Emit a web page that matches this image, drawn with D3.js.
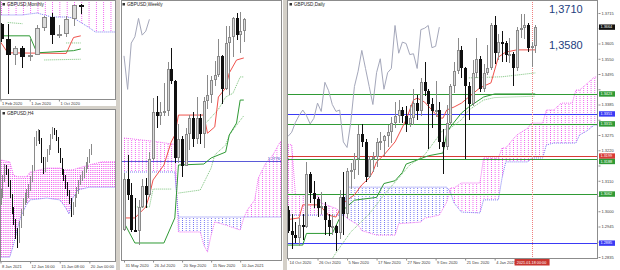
<!DOCTYPE html>
<html lang="en">
<head>
<meta charset="UTF-8">
<script src="https://cdnjs.cloudflare.com/ajax/libs/d3/7.8.5/d3.min.js"></script>
<title>GBPUSD Monthly / H4 / Weekly / Daily</title>
<style>
    html, body { margin: 0; padding: 0; background: #d4d0c8; }
    svg { display: block; font-family: "Liberation Sans", "DejaVu Sans", sans-serif; }
    .tick-label { fill: #3a3a3a; font-size: 4px; }
    .title { fill: #1e1e1e; font-size: 4.6px; }
    .box-label { fill: #fff; font-size: 3.8px; }
    .note { fill: #23407e; font-size: 11px; }
</style>
</head>
<body>
<script>
    // ---------- data (prices) ----------

    // monthly candles Feb 2020 .. Jan 2021, [open, high, low, close]
    const monthlyOHLC = [
        [1.3195, 1.3210, 1.2725, 1.2820],
        [1.2820, 1.3200, 1.1409, 1.2405],
        [1.2405, 1.2645, 1.2165, 1.2585],
        [1.2585, 1.2645, 1.2075, 1.2345],
        [1.2345, 1.2813, 1.2252, 1.2405],
        [1.2405, 1.3170, 1.2395, 1.3085],
        [1.3085, 1.3395, 1.3005, 1.3370],
        [1.3370, 1.3482, 1.2676, 1.2915],
        [1.2915, 1.3177, 1.2845, 1.2945],
        [1.2945, 1.3400, 1.2855, 1.3315],
        [1.3315, 1.3680, 1.3135, 1.3670],
        [1.3670, 1.3710, 1.3450, 1.3664]
    ];
    const monthlyDates = [[0, '1 Feb 2020'], [4, '1 Jun 2020'], [8, '1 Oct 2020']];
    const monthlyTenkan = [[0, 1.2737], [1, 1.2462], [9, 1.2446], [10, 1.2850], [11, 1.2893]];
    const monthlyKijun = [[0, 1.2893], [4, 1.2893], [5, 1.2462], [10, 1.2517], [11, 1.2560]];
    const monthlyDotted = [
        [[1, 1.3230], [3, 1.3200]],
        [[9, 1.2712], [11, 1.2712]],
        [[6, 1.2281], [11, 1.2300]]
    ];
    // kumo rows: [bar, span A, span B]
    const monthlyKumo = [
        [0, 1.45, 1.3421], [3, 1.45, 1.3421], [5, 1.45, 1.3471], [7, 1.45, 1.3370],
        [9, 1.45, 1.3370], [10, 1.45, 1.3345], [12, 1.45, 1.3117], [13, 1.45, 1.2990], [16, 1.45, 1.2990]
    ];

    // H4 candles 8 Jan .. 19 Jan 2021
    const h4OHLC = [
        [1.3555, 1.3580, 1.3545, 1.3567], [1.3567, 1.3610, 1.3560, 1.3600], [1.3600, 1.3636, 1.3595, 1.3626],
        [1.3626, 1.3632, 1.3610, 1.3622], [1.3622, 1.3625, 1.3585, 1.3595], [1.3595, 1.3600, 1.3560, 1.3567],
        [1.3567, 1.3570, 1.3525, 1.3534], [1.3534, 1.3540, 1.3500, 1.3507], [1.3507, 1.3515, 1.3470, 1.3490],
        [1.3490, 1.3495, 1.3450, 1.3468], [1.3468, 1.3510, 1.3460, 1.3501], [1.3501, 1.3535, 1.3495, 1.3529],
        [1.3529, 1.3560, 1.3520, 1.3556], [1.3556, 1.3572, 1.3545, 1.3565], [1.3565, 1.3580, 1.3550, 1.3573],
        [1.3573, 1.3590, 1.3560, 1.3582], [1.3582, 1.3608, 1.3575, 1.3600], [1.3600, 1.3632, 1.3595, 1.3626],
        [1.3626, 1.3695, 1.3620, 1.3688], [1.3688, 1.3708, 1.3675, 1.3699], [1.3699, 1.3712, 1.3685, 1.3706],
        [1.3706, 1.3710, 1.3680, 1.3688], [1.3688, 1.3692, 1.3638, 1.3644], [1.3644, 1.3650, 1.3612, 1.3622],
        [1.3622, 1.3650, 1.3618, 1.3644], [1.3644, 1.3668, 1.3640, 1.3662], [1.3662, 1.3678, 1.3655, 1.3670],
        [1.3670, 1.3702, 1.3665, 1.3699], [1.3699, 1.3716, 1.3690, 1.3710], [1.3710, 1.3714, 1.3698, 1.3706],
        [1.3706, 1.3710, 1.3685, 1.3692], [1.3692, 1.3695, 1.3660, 1.3666], [1.3666, 1.3670, 1.3638, 1.3644],
        [1.3644, 1.3648, 1.3610, 1.3617], [1.3617, 1.3625, 1.3598, 1.3604], [1.3604, 1.3610, 1.3580, 1.3587],
        [1.3587, 1.3595, 1.3565, 1.3573], [1.3573, 1.3578, 1.3548, 1.3556], [1.3556, 1.3560, 1.3518, 1.3529],
        [1.3529, 1.3552, 1.3522, 1.3545], [1.3545, 1.3570, 1.3540, 1.3565], [1.3565, 1.3585, 1.3560, 1.3578],
        [1.3578, 1.3600, 1.3570, 1.3595], [1.3595, 1.3610, 1.3588, 1.3604], [1.3604, 1.3620, 1.3598, 1.3613],
        [1.3613, 1.3628, 1.3605, 1.3622], [1.3622, 1.3640, 1.3615, 1.3633], [1.3633, 1.3650, 1.3625, 1.3644],
        [1.3644, 1.3668, 1.3638, 1.3662], [1.3662, 1.3680, 1.3655, 1.3673]
    ];
    const h4Dates = [[0, '8 Jan 2021'], [16, '12 Jan 16:00'], [32, '15 Jan 08:00'], [48, '20 Jan 00:00']];
    const h4Kumo = [
        [0, 1.3644, 1.3430], [5, 1.3640, 1.3430], [7, 1.3611, 1.3457], [9, 1.3607, 1.3490],
        [11, 1.3607, 1.3520], [14, 1.3607, 1.3545], [16, 1.3617, 1.3556], [25, 1.3626, 1.3560],
        [32, 1.3626, 1.3556], [35, 1.3622, 1.3540], [37, 1.3622, 1.3525], [39, 1.3622, 1.3560],
        [42, 1.3626, 1.3578], [48, 1.3633, 1.3584], [55, 1.3640, 1.3584], [64, 1.3640, 1.3584]
    ];

    // weekly candles, week of 31 May 2020 .. week of 17 Jan 2021
    const weeklyOHLC = [
        [1.2345, 1.2700, 1.2335, 1.2665], [1.2665, 1.2813, 1.2530, 1.2565], [1.2565, 1.2640, 1.2330, 1.2345],
        [1.2345, 1.2545, 1.2335, 1.2335], [1.2335, 1.2530, 1.2252, 1.2485], [1.2485, 1.2665, 1.2480, 1.2620],
        [1.2620, 1.2670, 1.2480, 1.2565], [1.2565, 1.2835, 1.2550, 1.2790], [1.2790, 1.3170, 1.2780, 1.3085],
        [1.3085, 1.3185, 1.2980, 1.3055], [1.3055, 1.3145, 1.3000, 1.3085], [1.3085, 1.3265, 1.3055, 1.3090],
        [1.3090, 1.3395, 1.3060, 1.3350], [1.3350, 1.3482, 1.3260, 1.3280], [1.3280, 1.3285, 1.2762, 1.2795],
        [1.2795, 1.3005, 1.2765, 1.2915], [1.2915, 1.2935, 1.2676, 1.2745], [1.2745, 1.2980, 1.2745, 1.2945],
        [1.2945, 1.3065, 1.2845, 1.3045], [1.3045, 1.3085, 1.2865, 1.2915], [1.2915, 1.3177, 1.2880, 1.3045],
        [1.3045, 1.3070, 1.2880, 1.2945], [1.2945, 1.3175, 1.2855, 1.3150], [1.3150, 1.3313, 1.3105, 1.3190],
        [1.3190, 1.3310, 1.3140, 1.3285], [1.3285, 1.3400, 1.3245, 1.3315], [1.3315, 1.3540, 1.3305, 1.3435],
        [1.3435, 1.3440, 1.3135, 1.3225], [1.3225, 1.3625, 1.3220, 1.3515], [1.3515, 1.3625, 1.3190, 1.3555],
        [1.3555, 1.3680, 1.3430, 1.3670], [1.3670, 1.3705, 1.3535, 1.3565], [1.3565, 1.3710, 1.3450, 1.3590],
        [1.3590, 1.3670, 1.3520, 1.3664]
    ];
    const weeklyDates = [[0, '31 May 2020'], [8, '26 Jul 2020'], [16, '20 Sep 2020'], [24, '15 Nov 2020'], [32, '10 Jan 2021']];
    const weeklyTenkan = [
        [0, 1.2419], [3, 1.2419], [6, 1.2488], [7, 1.2560], [8, 1.2657], [11, 1.2751], [13, 1.2895],
        [14, 1.2939], [15, 1.3064], [22, 1.3064], [23, 1.2950], [25, 1.2990], [26, 1.3177], [28, 1.3234],
        [29, 1.3328], [31, 1.3409], [33, 1.3422]
    ];
    const weeklyKijun = [
        [0, 1.2390], [3, 1.2262], [11, 1.2262], [14, 1.2419], [15, 1.2751], [22, 1.2757], [24, 1.2795],
        [28, 1.2832], [29, 1.2939], [31, 1.3014], [32, 1.3158], [33, 1.3158]
    ];
    const weeklyDotted = [
        [[15, 1.2575], [21, 1.2594], [24, 1.2732], [25, 1.2814], [28, 1.2876], [29, 1.2939], [31, 1.3000], [33, 1.3060]],
        [[22, 1.3000], [26, 1.3100], [28, 1.3177], [30, 1.3200], [32, 1.3303], [33, 1.3303]],
        [[3, 1.2488], [7, 1.2488], [8, 1.2600], [13, 1.2600]]
    ];
    const weeklyKumo = [
        [0, 1.2920, 1.2707], [8, 1.2900, 1.2707], [14, 1.2880, 1.2707], [15, 1.2331, 1.2425],
        [21, 1.2331, 1.2425], [22, 1.2249, 1.2425], [23, 1.2205, 1.2425], [24, 1.2312, 1.2425],
        [25, 1.2394, 1.2425], [28, 1.2375, 1.2425], [32, 1.2343, 1.2425], [33, 1.2419, 1.2425],
        [34, 1.2470, 1.2425], [36, 1.2531, 1.2425], [37, 1.2669, 1.2425], [39, 1.2760, 1.2425],
        [41, 1.2814, 1.2425], [43, 1.2895, 1.2425], [45, 1.2930, 1.2425]
    ];
    const weeklyLevel = 1.2776;

    // daily candles 14 Oct 2020 .. 19 Jan 2021
    const dailyOHLC = [
        [1.3005, 1.3020, 1.2920, 1.2930], [1.2930, 1.2990, 1.2865, 1.2915], [1.2915, 1.2960, 1.2885, 1.2905],
        [1.2905, 1.2975, 1.2875, 1.2950], [1.2950, 1.2990, 1.2895, 1.2945], [1.2945, 1.3177, 1.2940, 1.3135],
        [1.3135, 1.3140, 1.3030, 1.3065], [1.3065, 1.3110, 1.3010, 1.3045], [1.3045, 1.3050, 1.2980, 1.3010],
        [1.3010, 1.3070, 1.2990, 1.3020], [1.3020, 1.3035, 1.2915, 1.2970], [1.2970, 1.2990, 1.2910, 1.2945],
        [1.2945, 1.2990, 1.2915, 1.2948], [1.2948, 1.2950, 1.2855, 1.2920], [1.2920, 1.3075, 1.2900, 1.3050],
        [1.3050, 1.3140, 1.2915, 1.2990], [1.2990, 1.3155, 1.2975, 1.3145], [1.3145, 1.3175, 1.3080, 1.3150],
        [1.3150, 1.3210, 1.3115, 1.3190], [1.3190, 1.3310, 1.3130, 1.3280], [1.3280, 1.3315, 1.3230, 1.3250],
        [1.3250, 1.3260, 1.3105, 1.3125], [1.3125, 1.3200, 1.3120, 1.3190], [1.3190, 1.3215, 1.3140, 1.3195],
        [1.3195, 1.3265, 1.3160, 1.3250], [1.3250, 1.3285, 1.3220, 1.3255], [1.3255, 1.3275, 1.3200, 1.3270],
        [1.3270, 1.3310, 1.3230, 1.3285], [1.3285, 1.3340, 1.3245, 1.3320], [1.3320, 1.3395, 1.3300, 1.3345],
        [1.3345, 1.3400, 1.3320, 1.3365], [1.3365, 1.3375, 1.3320, 1.3345], [1.3345, 1.3380, 1.3285, 1.3315],
        [1.3315, 1.3385, 1.3305, 1.3335], [1.3335, 1.3440, 1.3310, 1.3390], [1.3390, 1.3420, 1.3330, 1.3360],
        [1.3360, 1.3480, 1.3345, 1.3465], [1.3465, 1.3540, 1.3415, 1.3435], [1.3435, 1.3440, 1.3225, 1.3385],
        [1.3385, 1.3410, 1.3300, 1.3360], [1.3360, 1.3470, 1.3340, 1.3365], [1.3365, 1.3395, 1.3225, 1.3250],
        [1.3250, 1.3295, 1.3135, 1.3230], [1.3230, 1.3385, 1.3220, 1.3320], [1.3320, 1.3460, 1.3310, 1.3450],
        [1.3450, 1.3540, 1.3425, 1.3505], [1.3505, 1.3625, 1.3495, 1.3580], [1.3580, 1.3595, 1.3480, 1.3515],
        [1.3515, 1.3520, 1.3190, 1.3450], [1.3450, 1.3465, 1.3330, 1.3385], [1.3385, 1.3545, 1.3380, 1.3500],
        [1.3500, 1.3625, 1.3480, 1.3550], [1.3550, 1.3560, 1.3430, 1.3440], [1.3440, 1.3530, 1.3430, 1.3500],
        [1.3500, 1.3600, 1.3490, 1.3515], [1.3515, 1.3680, 1.3510, 1.3670], [1.3670, 1.3705, 1.3530, 1.3570],
        [1.3570, 1.3640, 1.3545, 1.3610], [1.3610, 1.3650, 1.3540, 1.3605], [1.3605, 1.3615, 1.3540, 1.3565],
        [1.3565, 1.3625, 1.3535, 1.3568], [1.3568, 1.3575, 1.3450, 1.3515], [1.3515, 1.3665, 1.3505, 1.3655],
        [1.3655, 1.3710, 1.3625, 1.3660], [1.3660, 1.3710, 1.3620, 1.3670], [1.3670, 1.3680, 1.3575, 1.3590],
        [1.3590, 1.3610, 1.3520, 1.3595], [1.3595, 1.3670, 1.3570, 1.3664]
    ];
    const dailyDates = [
        [0, '14 Oct 2020'], [8, '26 Oct 2020'], [16, '5 Nov 2020'], [24, '17 Nov 2020'],
        [32, '27 Nov 2020'], [40, '9 Dec 2020'], [48, '21 Dec 2020'], [56, '4 Jan 2021']
    ];
    const dailyPriceTicks = [
        1.3715, 1.3660, 1.3605, 1.3550, 1.3495, 1.3440, 1.3385, 1.3330, 1.3275,
        1.3220, 1.3165, 1.3110, 1.3055, 1.3000, 1.2945, 1.2890, 1.2835
    ];
    const dailyTenkan = [
        [0, 1.2970], [3, 1.2976], [4, 1.3023], [8, 1.3023], [9, 1.3015], [11, 1.2986], [13, 1.2979],
        [14, 1.3005], [15, 1.3030], [18, 1.3059], [20, 1.3095], [22, 1.3120], [23, 1.3142], [24, 1.3178],
        [26, 1.3203], [29, 1.3250], [32, 1.3330], [34, 1.3401], [35, 1.3408], [37, 1.3394], [39, 1.3365],
        [41, 1.3336], [42, 1.3336], [43, 1.3365], [45, 1.3376], [47, 1.3390], [49, 1.3412], [52, 1.3445],
        [55, 1.3463], [57, 1.3556], [59, 1.3574], [62, 1.3582], [67, 1.3582]
    ];
    const dailyKijun = [
        [0, 1.2878], [4, 1.2878], [5, 1.2920], [12, 1.2920], [14, 1.2975], [15, 1.3005], [18, 1.3040],
        [24, 1.3050], [26, 1.3100], [29, 1.3110], [31, 1.3140], [32, 1.3170], [36, 1.3190], [38, 1.3200],
        [42, 1.3210], [43, 1.3280], [44, 1.3304], [47, 1.3354], [49, 1.3376], [53, 1.3412], [56, 1.3423],
        [67, 1.3423]
    ];
    const dailyDotted = [
        [[10, 1.2788], [13, 1.2850], [17, 1.2925], [22, 1.2990], [26, 1.3059], [30, 1.3120], [33, 1.3167],
         [37, 1.3203], [42, 1.3293], [44, 1.3300], [47, 1.3330], [49, 1.3365], [53, 1.3401], [56, 1.3410], [67, 1.3415]],
        [[49, 1.3481], [58, 1.3485], [67, 1.3499]]
    ];
    const dailyKumo = [
        [0, 1.3240, 1.2986], [1, 1.3240, 1.2986], [2, 1.3060, 1.2986], [8, 1.3060, 1.2986],
        [9, 1.3030, 1.2986], [13, 1.3010, 1.2986], [15, 1.2990, 1.2986], [16, 1.2975, 1.3087],
        [19, 1.2950, 1.3087], [20, 1.2930, 1.3087], [24, 1.2914, 1.3087], [29, 1.2914, 1.3087],
        [30, 1.2955, 1.3087], [36, 1.2961, 1.3087], [37, 1.2975, 1.3087], [41, 1.2986, 1.3087],
        [43, 1.3033, 1.3087], [44, 1.3084, 1.3069], [45, 1.3084, 1.3030], [47, 1.3102, 1.2997],
        [52, 1.3102, 1.2994], [53, 1.3192, 1.3041], [57, 1.3192, 1.3041], [58, 1.3228, 1.3120],
        [59, 1.3228, 1.3178], [61, 1.3260, 1.3178], [62, 1.3275, 1.3178], [65, 1.3300, 1.3178],
        [66, 1.3318, 1.3192], [69, 1.3318, 1.3192], [70, 1.3365, 1.3239], [72, 1.3365, 1.3246],
        [74, 1.3390, 1.3246], [77, 1.3390, 1.3246], [78, 1.3437, 1.3246], [79, 1.3437, 1.3275],
        [81, 1.3460, 1.3290], [83, 1.3484, 1.3311], [85, 1.3484, 1.3311]
    ];
    const dailyLevels = [1.3423, 1.3351, 1.3315, 1.3199, 1.3188, 1.3062, 1.2885];
    const dailyLevelKinds = ['green', 'blue', 'green', 'red', 'green', 'green', 'blue'];
    const dailyNotes = [1.3710, 1.3580];
    const markerBar = 66;
    const markerLabel = '2021.01.18 00:00';
    const chikouShift = 26;

    // ---------- look ----------
    const colors = {
        bullFill: '#dadada', bullLine: '#8a8a8a', bear: '#101010',
        tenkan: '#f0524c', kijun: '#2f9a35', dotted: '#79c279', chikou: '#a4a7ba',
        kumoUp: '#f05af0', kumoDown: '#6c6cf2',
        green: '#2f9a35', blue: '#3a3af5', red: '#d83a36',
        frame: '#8c8c8c', gap: '#d4d0c8'
    };

    const W = 620, H = 270;
    const svg = d3.select('body').append('svg').attr('width', W).attr('height', H);
    const defs = svg.append('defs');
    svg.append('rect').attr('width', W).attr('height', H).attr('fill', colors.gap);

    // window / plot rectangles: [x0, y0, x1, y1]
    const layout = {
        monthly: { win: [0, 0, 116, 106], plot: [0, 0, 116, 99], bars: [0, 11], xr: [0.5, 80.8], prices: [1.1346, 1.38], yr: [96.9, 0], title: 'GBPUSD,Monthly' },
        h4: { win: [0, 109, 116, 270], plot: [0, 109, 116, 261], bars: [0, 49], xr: [0.5, 91.2], prices: [1.3450, 1.3710], yr: [248, 130], title: 'GBPUSD,H4' },
        weekly: { win: [120, 0, 283, 270], plot: [121, 0, 282, 260], bars: [0, 33], xr: [124, 243.8], prices: [1.2776, 1.3710], yr: [161, 12], title: 'GBPUSD,Weekly' },
        daily: { win: [287, 0, 620, 270], plot: [287, 0, 598, 258], bars: [0, 84], xr: [288, 598], prices: [1.2835, 1.3715], yr: [257, 13], title: 'GBPUSD,Daily' }
    };

    function setup(id) {
        const cfg = layout[id];
        const x = d3.scaleLinear().domain(cfg.bars).range(cfg.xr);
        const y = d3.scaleLinear().domain(cfg.prices).range(cfg.yr);
        const [wx0, wy0, wx1, wy1] = cfg.win;
        const [px0, py0, px1, py1] = cfg.plot;

        svg.append('rect')
            .attr('x', wx0).attr('y', wy0)
            .attr('width', wx1 - wx0).attr('height', wy1 - wy0)
            .attr('fill', '#fff');

        defs.append('clipPath').attr('id', 'clip-' + id)
            .append('rect')
            .attr('x', px0).attr('y', py0)
            .attr('width', px1 - px0).attr('height', py1 - py0);

        // vertical dotted hatch, one column per bar
        const step = x(1) - x(0);
        [['up', colors.kumoUp], ['down', colors.kumoDown]].forEach(function(p) {
            const pat = defs.append('pattern')
                .attr('id', 'hatch-' + id + '-' + p[0])
                .attr('patternUnits', 'userSpaceOnUse')
                .attr('width', step).attr('height', 2)
                .attr('x', Math.round(x(0))).attr('y', 0);
            pat.append('rect').attr('width', 1).attr('height', 1)
                .attr('fill', p[1]).attr('shape-rendering', 'crispEdges');
        });

        const g = svg.append('g').attr('clip-path', 'url(#clip-' + id + ')');
        return { id: id, cfg: cfg, x: x, y: y, g: g };
    }

    function drawKumo(p, rows) {
        const lo = function(d) { return Math.min(d[1], d[2]); };
        p.g.append('path').datum(rows)
            .attr('fill', 'url(#hatch-' + p.id + '-up)')
            .attr('d', d3.area().x(function(d) { return p.x(d[0]); })
                .y0(function(d) { return p.y(lo(d)); })
                .y1(function(d) { return p.y(d[1]); }));
        p.g.append('path').datum(rows)
            .attr('fill', 'url(#hatch-' + p.id + '-down)')
            .attr('d', d3.area().x(function(d) { return p.x(d[0]); })
                .y0(function(d) { return p.y(lo(d)); })
                .y1(function(d) { return p.y(d[2]); }));
        [[1, colors.kumoUp], [2, colors.kumoDown]].forEach(function(s) {
            p.g.append('path').datum(rows)
                .attr('fill', 'none')
                .attr('stroke', s[1])
                .attr('stroke-width', 0.9)
                .attr('stroke-dasharray', '1,1')
                .attr('d', d3.line().x(function(d) { return p.x(d[0]); })
                    .y(function(d) { return p.y(d[s[0]]); }));
        });
    }

    function drawLine(p, pts, color, dash, width) {
        p.g.append('path').datum(pts)
            .attr('fill', 'none')
            .attr('stroke', color)
            .attr('stroke-width', width || 1)
            .attr('stroke-dasharray', dash || null)
            .attr('d', d3.line().x(function(d) { return p.x(d[0]); })
                .y(function(d) { return p.y(d[1]); }));
    }

    function drawCandles(p, data, bw) {
        const cg = p.g.append('g').attr('shape-rendering', 'crispEdges');
        const half = Math.floor(bw / 2);
        const cx = function(i) { return Math.round(p.x(i)); };
        const bull = function(d) { return d[3] >= d[0]; };

        cg.selectAll('.wick').data(data).enter().append('line')
            .attr('class', 'wick')
            .attr('x1', function(d, i) { return cx(i) + 0.5; })
            .attr('x2', function(d, i) { return cx(i) + 0.5; })
            .attr('y1', function(d) { return p.y(d[1]); })
            .attr('y2', function(d) { return p.y(d[2]); })
            .attr('stroke', function(d) { return bull(d) ? colors.bullLine : colors.bear; });

        cg.selectAll('.body').data(data).enter().append('rect')
            .attr('class', 'body')
            .attr('x', function(d, i) { return bw > 1 ? cx(i) - half + 0.5 : cx(i); })
            .attr('width', bw > 1 ? bw - 1 : 1)
            .attr('y', function(d) { return Math.round(p.y(Math.max(d[0], d[3]))) + (bw > 1 ? 0.5 : 0); })
            .attr('height', function(d) {
                const h = Math.round(p.y(Math.min(d[0], d[3]))) - Math.round(p.y(Math.max(d[0], d[3])));
                return Math.max(h - (bw > 1 ? 1 : 0), 1);
            })
            .attr('fill', function(d) { return bull(d) ? (bw > 1 ? colors.bullFill : colors.bullLine) : colors.bear; })
            .attr('stroke', function(d) { return bw > 1 ? (bull(d) ? colors.bullLine : colors.bear) : 'none'; });
    }

    function drawChikou(p, data) {
        const pts = data.slice(chikouShift).map(function(d, i) { return [i, d[3]]; });
        drawLine(p, pts, colors.chikou, null, 1);
    }

    function drawFrame(p, dates, labelY) {
        const [px0, py0, px1, py1] = p.cfg.plot;
        const [wx0, wy0] = p.cfg.win;
        svg.append('rect')
            .attr('x', px0 + 0.5).attr('y', py0 + 0.5)
            .attr('width', px1 - px0 - 1).attr('height', py1 - py0)
            .attr('fill', 'none').attr('stroke', colors.frame)
            .attr('shape-rendering', 'crispEdges');

        const axis = d3.axisBottom(p.x)
            .tickValues(dates.map(function(d) { return d[0]; }))
            .tickFormat(function(d, i) { return dates[i][1]; })
            .tickSizeInner(2).tickSizeOuter(0).tickPadding(1);
        const ag = svg.append('g')
            .attr('transform', 'translate(0,' + (py1 + 0.5) + ')')
            .call(axis)
            .attr('font-size', null).attr('font-family', null);
        ag.select('.domain').remove();
        ag.selectAll('line').attr('stroke', colors.frame);
        ag.selectAll('text').attr('class', 'tick-label')
            .attr('text-anchor', 'start').attr('dx', '1').attr('y', labelY - py1)
            .attr('dy', 0);

        // title with the little menu glyph
        svg.append('rect').attr('x', wx0 + 2.5).attr('y', wy0 + 3).attr('width', 2.5).attr('height', 2.5).attr('fill', '#333');
        svg.append('text').attr('class', 'title')
            .attr('x', wx0 + 7).attr('y', wy0 + 6.3)
            .text(p.cfg.title);
    }

    // ---------- monthly ----------
    const pm = setup('monthly');
    drawKumo(pm, monthlyKumo);
    monthlyDotted.forEach(function(l) { drawLine(pm, l, colors.dotted, '1,1'); });
    drawLine(pm, monthlyTenkan, colors.tenkan);
    drawLine(pm, monthlyKijun, colors.kijun);
    drawCandles(pm, monthlyOHLC, 5);
    drawFrame(pm, monthlyDates, 104);

    // ---------- H4 ----------
    const ph = setup('h4');
    drawKumo(ph, h4Kumo);
    drawCandles(ph, h4OHLC, 1);
    drawFrame(ph, h4Dates, 267);

    // ---------- weekly ----------
    const pw = setup('weekly');
    drawKumo(pw, weeklyKumo);
    drawChikou(pw, weeklyOHLC);
    pw.g.append('line')
        .attr('x1', 121).attr('x2', 282)
        .attr('y1', Math.round(pw.y(weeklyLevel)) + 0.5).attr('y2', Math.round(pw.y(weeklyLevel)) + 0.5)
        .attr('stroke', '#5a5ad8').attr('stroke-width', 1);
    pw.g.append('text').attr('class', 'tick-label')
        .attr('x', 280).attr('y', pw.y(weeklyLevel) - 1.5)
        .attr('text-anchor', 'end').style('fill', '#4040c0')
        .text(weeklyLevel.toFixed(4));
    weeklyDotted.forEach(function(l) { drawLine(pw, l, colors.dotted, '1,1'); });
    drawLine(pw, weeklyTenkan, colors.tenkan);
    drawLine(pw, weeklyKijun, colors.kijun);
    drawCandles(pw, weeklyOHLC, 3);
    drawFrame(pw, weeklyDates, 266);

    // ---------- daily ----------
    const pd = setup('daily');
    drawKumo(pd, dailyKumo);
    dailyLevels.forEach(function(v, i) {
        const yy = Math.round(pd.y(v)) + 0.5;
        pd.g.append('line').attr('x1', 287).attr('x2', 598).attr('y1', yy).attr('y2', yy)
            .attr('stroke', colors[dailyLevelKinds[i]]).attr('stroke-width', 1);
    });
    pd.g.append('line')
        .attr('x1', Math.round(pd.x(markerBar)) + 0.5).attr('x2', Math.round(pd.x(markerBar)) + 0.5)
        .attr('y1', 0).attr('y2', 258)
        .attr('stroke', '#f08080').attr('stroke-dasharray', '1,1');
    drawChikou(pd, dailyOHLC);
    dailyDotted.forEach(function(l) { drawLine(pd, l, colors.dotted, '1,1'); });
    drawLine(pd, dailyKijun, colors.kijun);
    drawLine(pd, dailyTenkan, colors.tenkan);
    drawCandles(pd, dailyOHLC, 3);

    pd.g.selectAll('.note').data(dailyNotes).enter().append('text')
        .attr('class', 'note')
        .attr('x', 549).attr('y', function(d) { return pd.y(d) - 1; })
        .text(function(d) { return d.toFixed(4).replace('.', ','); });

    drawFrame(pd, dailyDates, 263.5);

    // coloured price boxes for the levels and the last close, stacked so they never overlap
    const boxH = 5.4;
    const boxes = dailyLevels.map(function(v, i) { return { v: v, c: colors[dailyLevelKinds[i]] }; });
    boxes.push({ v: dailyOHLC[dailyOHLC.length - 1][3], c: '#111' });
    boxes.sort(function(a, b) { return pd.y(a.v) - pd.y(b.v); });
    let lastBottom = -Infinity;
    boxes.forEach(function(b) {
        b.top = Math.max(pd.y(b.v) - boxH / 2, lastBottom);
        lastBottom = b.top + boxH;
    });

    // price scale on the right; ticks hidden under a box are skipped, as the terminal does
    const freeTicks = dailyPriceTicks.filter(function(t) {
        const ty = pd.y(t);
        return boxes.every(function(b) { return ty < b.top - 2.2 || ty > b.top + boxH + 2.2; });
    });
    const priceAxis = d3.axisRight(pd.y)
        .tickValues(dailyPriceTicks)
        .tickFormat(function(d) { return freeTicks.indexOf(d) >= 0 ? d3.format('.4f')(d) : ''; })
        .tickSizeInner(2).tickSizeOuter(0).tickPadding(1);
    const pg = svg.append('g').attr('transform', 'translate(598.5,0)').call(priceAxis)
        .attr('font-size', null).attr('font-family', null);
    pg.select('.domain').remove();
    pg.selectAll('line').attr('stroke', colors.frame);
    pg.selectAll('text').attr('class', 'tick-label').attr('dy', '0.35em');

    const bg = svg.append('g');
    bg.selectAll('rect').data(boxes).enter().append('rect')
        .attr('x', 599).attr('y', function(d) { return d.top; })
        .attr('width', 16).attr('height', boxH).attr('fill', function(d) { return d.c; });
    bg.selectAll('text').data(boxes).enter().append('text')
        .attr('class', 'box-label')
        .attr('x', 600.5).attr('y', function(d) { return d.top + boxH / 2 + 1.35; })
        .text(function(d) { return d.v.toFixed(4); });

    // date of the marker line
    const mx = pd.x(markerBar);
    svg.append('rect').attr('x', mx - 17).attr('y', 259).attr('width', 35).attr('height', 6.5).attr('fill', '#c8352f');
    svg.append('text').attr('class', 'box-label').attr('x', mx).attr('y', 263.8)
        .attr('text-anchor', 'middle').text(markerLabel);
</script>
</body>
</html>
